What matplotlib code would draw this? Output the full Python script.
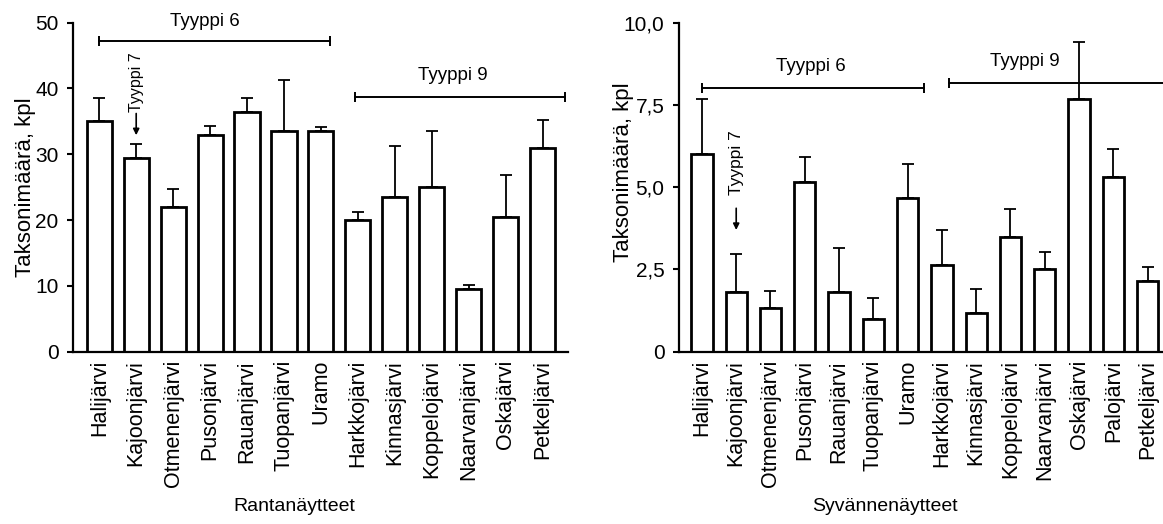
import matplotlib
matplotlib.use("Agg")
import matplotlib.pyplot as plt

plt.rcParams['font.family'] = ['Liberation Sans', 'DejaVu Sans']

# Rantanäytteet (left panel)
shore_lakes = ['Halijärvi', 'Kajoonjärvi', 'Otmenenjärvi', 'Pusonjärvi', 'Rauanjärvi',
               'Tuopanjärvi', 'Uramo', 'Harkkojärvi', 'Kinnasjärvi', 'Koppelojärvi',
               'Naarvanjärvi', 'Oskajärvi', 'Petkeljärvi']
shore_mean = [35.0, 29.5, 22.0, 33.0, 36.5, 33.5, 33.5, 20.0, 23.5, 25.0, 9.5, 20.5, 31.0]
shore_top = [38.5, 31.6, 24.8, 34.3, 38.6, 41.3, 34.1, 21.3, 31.3, 33.5, 10.1, 26.9, 35.2]

# Syvännenäytteet (right panel)
deep_lakes = ['Halijärvi', 'Kajoonjärvi', 'Otmenenjärvi', 'Pusonjärvi', 'Rauanjärvi',
              'Tuopanjärvi', 'Uramo', 'Harkkojärvi', 'Kinnasjärvi', 'Koppelojärvi',
              'Naarvanjärvi', 'Oskajärvi', 'Palojärvi', 'Petkeljärvi']
deep_mean = [6.0, 1.81, 1.33, 5.17, 1.81, 1.0, 4.66, 2.65, 1.17, 3.5, 2.5, 7.67, 5.32, 2.16]
deep_top = [7.67, 2.98, 1.85, 5.92, 3.14, 1.63, 5.69, 3.69, 1.91, 4.34, 3.04, 9.41, 6.15, 2.57]

left_ticks = [0, 10, 20, 30, 40, 50]
left_ticklabels = ['0', '10', '20', '30', '40', '50']
right_ticks = [0, 2.5, 5.0, 7.5, 10.0]
right_ticklabels = ['0', '2,5', '5,0', '7,5', '10,0']

fig = plt.figure(figsize=(11.63, 5.24), dpi=100)
ax1 = fig.add_axes([0.0628, 0.3288, 0.4256, 0.6279])
ax2 = fig.add_axes([0.5838, 0.3288, 0.4162, 0.6279])


def draw_panel(ax, names, means, tops, width, xlim, ylim, ticks, ticklabels, xlabel):
    x = list(range(len(names)))
    upper = [t - m for t, m in zip(tops, means)]
    lower = [0] * len(means)
    ax.errorbar(x, means, yerr=[lower, upper], fmt='none', ecolor='black',
                elinewidth=1.3, capsize=4, capthick=1.3, zorder=1)
    ax.bar(x, means, width=width, color='white', edgecolor='black', linewidth=2.0, zorder=2)
    ax.set_xlim(*xlim)
    ax.set_ylim(*ylim)
    ax.set_xticks(x)
    ax.set_xticklabels(names, rotation=90, fontsize=15.5)
    ax.set_yticks(ticks)
    ax.set_yticklabels(ticklabels, fontsize=15)
    ax.tick_params(axis='x', length=0, pad=6)
    ax.tick_params(axis='y', length=4.5, width=1.5, direction='out', pad=6)
    for side in ['top', 'right']:
        ax.spines[side].set_visible(False)
    for side in ['left', 'bottom']:
        ax.spines[side].set_linewidth(1.6)
    ax.set_xlabel(xlabel, fontsize=14)
    ax.set_ylabel('Taksonimäärä, kpl', fontsize=16)


def bracket(ax, x0, x1, y):
    ax.plot([x0, x1], [y, y], color='black', lw=1.4, clip_on=False)
    ax.plot([x0, x1], [y, y], ls='none', marker='|', ms=7, mew=1.4, color='black', clip_on=False)


draw_panel(ax1, shore_lakes, shore_mean, shore_top, 0.68, (-0.71, 12.69), (0, 50),
           left_ticks, left_ticklabels, 'Rantanäytteet')
draw_panel(ax2, deep_lakes, deep_mean, deep_top, 0.62, (-0.67, 13.45), (0, 10),
           right_ticks, right_ticklabels, 'Syvännenäytteet')

ax1.xaxis.set_label_coords(0.448, -0.445)
ax2.xaxis.set_label_coords(0.425, -0.445)
ax1.yaxis.set_label_coords(-0.075, 0.5)
ax2.yaxis.set_label_coords(-0.093, 0.545)

# left annotations
bracket(ax1, 0.0, 6.25, 47.2)
ax1.text(2.87, 50.2, 'Tyyppi 6', ha='center', va='center', fontsize=13.5, clip_on=False)
bracket(ax1, 6.91, 12.62, 38.7)
ax1.text(9.57, 42.0, 'Tyyppi 9', ha='center', va='center', fontsize=13.5)
ax1.text(1.0, 36.4, 'Tyyppi 7', rotation=90, ha='center', va='bottom', fontsize=11.5)
ax1.annotate('', xy=(1.0, 32.9), xytext=(1.0, 36.2),
             arrowprops=dict(arrowstyle='-|>', color='black', lw=1.2, mutation_scale=9,
                             shrinkA=0, shrinkB=0))

# right annotations
bracket(ax2, 0.0, 6.47, 8.0)
ax2.text(3.17, 8.66, 'Tyyppi 6', ha='center', va='center', fontsize=13.5)
ax2.plot([7.2, 13.6], [8.16, 8.16], color='black', lw=1.4, clip_on=False)
ax2.plot([7.2], [8.16], ls='none', marker='|', ms=7, mew=1.4, color='black')
ax2.text(9.42, 8.81, 'Tyyppi 9', ha='center', va='center', fontsize=13.5)
ax2.text(1.0, 4.75, 'Tyyppi 7', rotation=90, ha='center', va='bottom', fontsize=12.5)
ax2.annotate('', xy=(1.0, 3.70), xytext=(1.0, 4.36),
             arrowprops=dict(arrowstyle='-|>', color='black', lw=1.2, mutation_scale=9,
                             shrinkA=0, shrinkB=0))

fig.savefig('out.png', dpi=100)
